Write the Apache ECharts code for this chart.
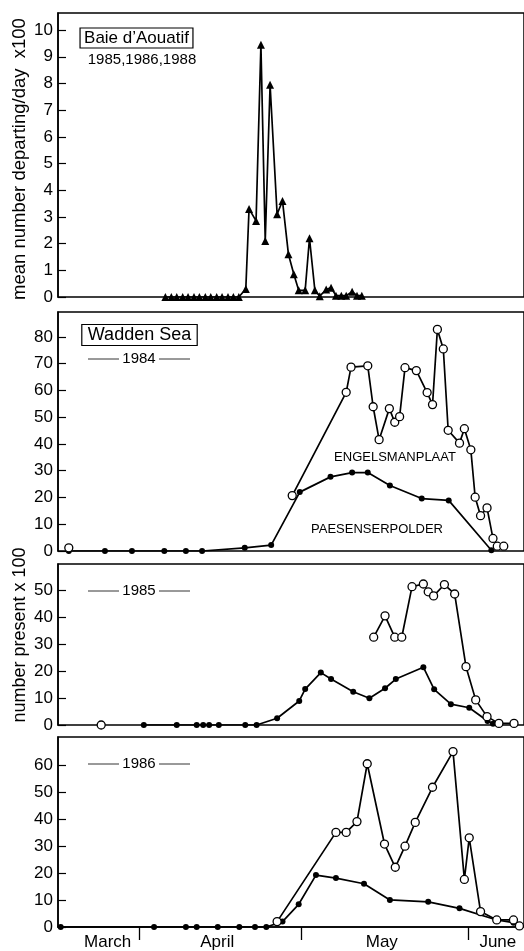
<!DOCTYPE html>
<html>
<head>
<meta charset="utf-8">
<script src="https://cdn.jsdelivr.net/npm/echarts@6/dist/echarts.min.js"></script>
<style>
html,body{margin:0;padding:0;background:#fff;}
#chart{width:524px;height:951px;}
</style>
</head>
<body>
<div id="chart"></div>
<script>
// ---- data (x = days since 1 March; 1 April = 31, 1 May = 61, 1 June = 92) ----
// null marks a gap in the line (the isolated early count is not joined to the rest)
const aouatifDays = [35.9,37.0,38.0,39.1,40.1,41.2,42.2,43.3,44.3,45.4,46.4,47.5,48.5,49.5,
  50.8,51.4,52.7,53.6,54.4,55.3,56.6,57.6,58.7,59.7,60.6,61.8,62.6,63.6,64.5,65.7,66.6,67.5,68.5,69.4,70.5,71.4,72.3];
const aouatifValues = [0,0,0,0,0,0,0,0,0,0,0,0,0,0,
  0.3,3.3,2.85,9.45,2.1,7.95,3.1,3.6,1.6,0.85,0.25,0.25,2.2,0.25,0.03,0.28,0.35,0.05,0.05,0.05,0.2,0.05,0.05];

const engel84Days = [18.0,40,59.4,69.4,70.3,73.4,74.4,75.5,77.4,78.4,79.3,80.3,82.4,84.4,85.4,86.3,87.4,88.3,90.4,91.3,92.5,93.3,94.3,95.5,96.6,97.4,98.6];
const engel84Values = [1.2,null,20.7,59.3,68.7,69.2,53.9,41.6,53.2,48.1,50.2,68.5,67.4,59.2,54.7,82.8,75.5,45.1,40.3,45.7,37.8,20.1,13.2,16.1,4.7,1.8,1.8];
const paes84Days = [18.0,24.7,29.7,35.7,39.7,42.7,50.6,55.5,60.8,66.5,70.5,73.4,77.5,83.4,88.4,96.3];
const paes84Values = [0,0,0,0,0,0,1.2,2.2,22,27.7,29.3,29.3,24.5,19.6,18.9,0.3];

const engel85Days = [24.0,50,74.5,76.6,78.4,79.7,81.6,83.7,84.6,85.6,87.6,89.5,91.6,93.4,95.5,97.7,100.5];
const engel85Values = [0,null,32.5,40.4,32.5,32.5,51.2,52.2,49.3,47.8,52.0,48.5,21.6,9.3,3.1,0.6,0.6];
const paes85Days = [31.9,38.0,41.7,42.9,44.0,45.8,50.7,52.8,56.6,60.7,61.8,64.7,66.6,70.7,73.7,76.6,78.6,83.7,85.7,88.8,92.2,95.6,96.6];
const paes85Values = [0,0,0,0,0,0,0,0,2.5,8.9,13.3,19.4,17.0,12.3,9.9,13.6,17.0,21.4,13.2,7.7,6.4,1.5,0.5];

const engel86Days = [56.6,67.5,69.4,71.4,73.3,76.5,78.5,80.3,82.2,85.4,89.2,91.3,92.2,94.3,97.3,100.4,101.5];
const engel86Values = [2,35,35,39,60.4,30.7,22.1,29.9,38.7,51.7,64.9,17.6,33,5.7,2.6,2.6,0.4];
const paes86Days = [16.5,33.8,39.7,41.7,45.6,49.6,52.5,54.6,57.6,60.6,63.8,67.5,72.7,77.5,84.6,90.4,97.3,100.4,101.6];
const paes86Values = [0,0,0,0,0,0,0,0,2,8.4,19.2,18.1,16,10,9.3,6.9,2.6,1.6,0];

// tick labels
const yTicks1 = [0,1,2,3,4,5,6,7,8,9,10];
const yTicks2 = [0,10,20,30,40,50,60,70,80];
const yTicks3 = [0,10,20,30,40,50];
const yTicks4 = [0,10,20,30,40,50,60];
const monthBoundaries = [31,61,92];
const monthLabelPos = [25.2,45.5,76,97.5];
const monthNames = ['March','April','May','June'];

const zip = (xs, ys) => xs.map((x,i) => ys[i] === null ? [x, '-'] : [x, ys[i]]);

const FONT = '"Liberation Sans", Arial, Helvetica, sans-serif';
const X_MIN = 16, X_MAX = 102.35;

const grids = [
  {top:13, height:284},
  {top:312, height:239},
  {top:564, height:161},
  {top:737, height:191}
].map(g => Object.assign({left:58, right:-2, show:true, borderColor:'#000', borderWidth:1.5, backgroundColor:'transparent'}, g));

const yMax = [10.64, 89.3, 59.6, 70.3];
const yTicks = [yTicks1, yTicks2, yTicks3, yTicks4];

const xAxes = grids.map((g,i) => ({
  type:'value', gridIndex:i, min:X_MIN, max:X_MAX,
  axisLine:{show: i===3, lineStyle:{color:'#000', width:1.5}},
  splitLine:{show:false},
  axisTick: i===3 ? {show:true, inside:false, length:13, customValues:monthBoundaries, lineStyle:{color:'#000', width:1.3}} : {show:false},
  axisLabel: i===3 ? {show:true, customValues:monthLabelPos, margin:7, color:'#000', fontSize:17, fontFamily:FONT,
     formatter: v => monthNames[monthLabelPos.indexOf(v)] || ''} : {show:false}
}));

const yAxes = grids.map((g,i) => ({
  type:'value', gridIndex:i, min:0, max:yMax[i],
  axisLine:{show:true, lineStyle:{color:'#000', width:1.5}},
  splitLine:{show:false},
  axisTick:{show:true, inside:true, length:8, customValues:yTicks[i], lineStyle:{color:'#000', width:1.2}},
  axisLabel:{show:true, customValues:yTicks[i], margin:5, color:'#000', fontSize:17, fontFamily:FONT}
}));

const lineStyle = {color:'#000', width:1.7};
function openSeries(idx, data){
  return {type:'line', xAxisIndex:idx, yAxisIndex:idx, data, symbol:'circle', symbolSize:8, connectNulls:false,
    lineStyle, itemStyle:{color:'#fff', borderColor:'#000', borderWidth:1.3}, z:4, animation:false};
}
function filledSeries(idx, data){
  return {type:'line', xAxisIndex:idx, yAxisIndex:idx, data, symbol:'circle', symbolSize:6,
    lineStyle, itemStyle:{color:'#000'}, z:3, animation:false};
}

const series = [
  {type:'line', xAxisIndex:0, yAxisIndex:0, data:zip(aouatifDays, aouatifValues), symbol:'triangle', symbolSize:8,
   lineStyle, itemStyle:{color:'#000'}, animation:false},
  openSeries(1, zip(engel84Days, engel84Values)),
  filledSeries(1, zip(paes84Days, paes84Values)),
  openSeries(2, zip(engel85Days, engel85Values)),
  filledSeries(2, zip(paes85Days, paes85Values)),
  openSeries(3, zip(engel86Days, engel86Values)),
  filledSeries(3, zip(paes86Days, paes86Values))
];

function yearLabel(text, cy){
  return [
    {type:'line', shape:{x1:88, y1:cy, x2:119, y2:cy}, style:{stroke:'#000', lineWidth:0.8}},
    {type:'line', shape:{x1:159, y1:cy, x2:190, y2:cy}, style:{stroke:'#000', lineWidth:0.8}},
    {type:'text', x:139, y:cy, style:{text, font:'15px '+FONT, fill:'#000', textAlign:'center', textVerticalAlign:'middle'}}
  ];
}

const graphic = [
  {type:'text', x:20, y:159, rotation:Math.PI/2,
   style:{text:'mean number departing/day  x100', font:'18.5px '+FONT, fill:'#000', textAlign:'center', textVerticalAlign:'middle'}},
  {type:'text', x:20, y:635, rotation:Math.PI/2,
   style:{text:'number present x 100', font:'18px '+FONT, fill:'#000', textAlign:'center', textVerticalAlign:'middle'}},
  {type:'text', x:136.5, y:38, style:{text:'Baie d\u2019Aouatif', font:'17px '+FONT, fill:'#000', textAlign:'center', textVerticalAlign:'middle',
     borderColor:'#000', borderWidth:1.2, padding:[2,4,1,4]}},
  {type:'text', x:142, y:60, style:{text:'1985,1986,1988', font:'15px '+FONT, fill:'#000', textAlign:'center', textVerticalAlign:'middle'}},
  {type:'text', x:139.5, y:335, style:{text:'Wadden Sea', font:'18px '+FONT, fill:'#000', textAlign:'center', textVerticalAlign:'middle',
     borderColor:'#000', borderWidth:1.2, padding:[2,6,1,6]}},
  ...yearLabel('1984', 359),
  ...yearLabel('1985', 591),
  ...yearLabel('1986', 764),
  {type:'text', x:395, y:457, style:{text:'ENGELSMANPLAAT', font:'13px '+FONT, fill:'#000', textAlign:'center', textVerticalAlign:'middle'}},
  {type:'text', x:377, y:529, style:{text:'PAESENSERPOLDER', font:'13px '+FONT, fill:'#000', textAlign:'center', textVerticalAlign:'middle'}}
];

const chart = echarts.init(document.getElementById('chart'), null, {renderer:'canvas'});
chart.setOption({
  animation:false,
  backgroundColor:'#fff',
  textStyle:{fontFamily:FONT},
  grid:grids, xAxis:xAxes, yAxis:yAxes, series, graphic
});
</script>
</body>
</html>
